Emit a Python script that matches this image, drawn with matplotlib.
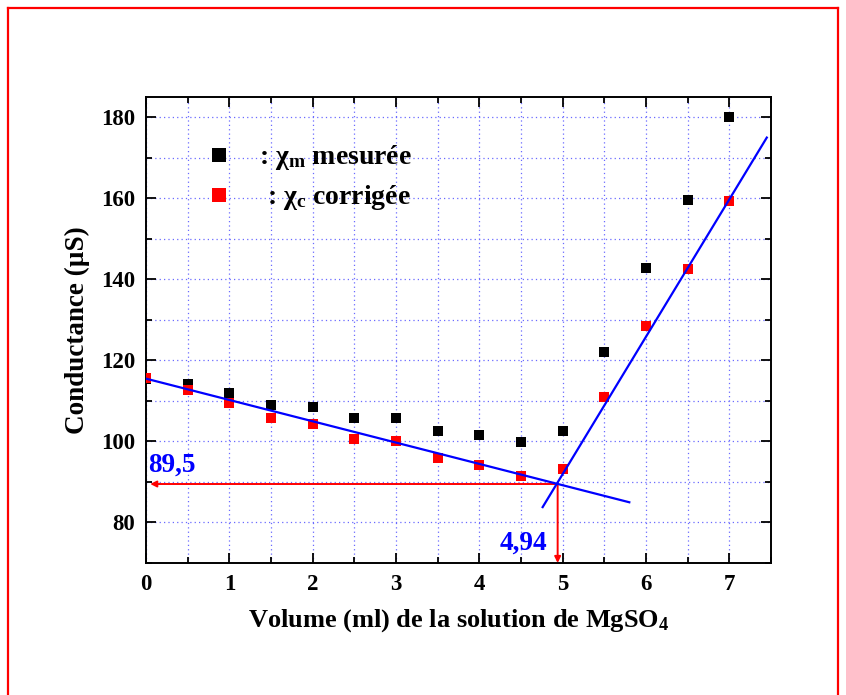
import numpy as np
import matplotlib
matplotlib.use("Agg")
import matplotlib.pyplot as plt
from matplotlib.lines import Line2D
from matplotlib.ticker import MultipleLocator

plt.rcParams['font.family'] = ['Liberation Serif', 'DejaVu Serif']
plt.rcParams['font.weight'] = 'bold'
plt.rcParams['mathtext.fontset'] = 'custom'
plt.rcParams['mathtext.rm'] = 'Liberation Serif:bold'
plt.rcParams['mathtext.bf'] = 'Liberation Serif:bold'
plt.rcParams['mathtext.it'] = 'Liberation Serif:bold'

# Volume of MgSO4 added (ml)
volume = [0, 0.5, 1, 1.5, 2, 2.5, 3, 3.5, 4, 4.5, 5, 5.5, 6, 6.5, 7]
# measured conductance (uS)
chi_m = [115.3, 114.1, 111.9, 108.9, 108.6, 105.7, 105.9, 102.5, 101.7, 99.8,
         102.5, 122.0, 142.7, 159.5, 180.0]
# corrected conductance (uS)
chi_c = [115.6, 112.8, 109.6, 105.7, 104.4, 100.7, 100.0, 95.8, 94.1, 91.4,
         93.1, 110.9, 128.6, 142.5, 159.3]

# linear fits (slope, intercept) and their drawn ranges
fit1_a, fit1_b = -5.26, 115.5
fit1_x = [0, 5.8]
fit2_a, fit2_b = 33.9, 89.9 - 33.9 * 4.94
fit2_x = [4.76, 7.45]
# equivalence point
x_eq, y_eq = 4.94, 89.5

fig = plt.figure(figsize=(8.46, 6.95), dpi=100)
ax = fig.add_axes([0.1726, 0.1899, 0.7387, 0.6705])

# red frame around the figure
for xs, ys in [([0.0095, 0.0095], [-0.1, 0.9885]),
               ([0.0095, 0.9905], [0.9885, 0.9885]),
               ([0.9905, 0.9905], [0.9885, -0.1])]:
    fig.add_artist(Line2D(xs, ys, color='red', lw=1.6, transform=fig.transFigure))

ax.set_xlim(0, 7.5)
ax.set_ylim(70, 185)
ax.xaxis.set_major_locator(MultipleLocator(1))
ax.xaxis.set_minor_locator(MultipleLocator(0.5))
ax.yaxis.set_major_locator(MultipleLocator(20))
ax.yaxis.set_minor_locator(MultipleLocator(10))
ax.grid(True, which='both', color='#6a6aff', ls=(0, (1, 2.5)), lw=0.9)
ax.set_axisbelow(True)

ax.tick_params(which='both', direction='in', top=True, right=True, width=1.3,
               labelsize=16.5)
ax.tick_params(which='major', length=7, pad=8)
ax.tick_params(which='minor', length=4)
for s in ax.spines.values():
    s.set_linewidth(1.4)

ax.scatter(volume, chi_m, marker='s', s=54, color='black', zorder=3, linewidths=0)
ax.scatter(volume, chi_c, marker='s', s=54, color='red', zorder=4, linewidths=0)

x1 = np.array(fit1_x)
ax.plot(x1, fit1_a * x1 + fit1_b, color='blue', lw=1.6, zorder=5)
x2 = np.array(fit2_x)
ax.plot(x2, fit2_a * x2 + fit2_b, color='blue', lw=1.6, zorder=5)

# arrows to the axes
ax.annotate('', xy=(0.05, y_eq), xytext=(x_eq, y_eq),
            arrowprops=dict(arrowstyle='-|>', color='red', lw=1.4,
                            mutation_scale=9, shrinkA=0, shrinkB=0), zorder=4)
ax.annotate('', xy=(x_eq, 70), xytext=(x_eq, y_eq),
            arrowprops=dict(arrowstyle='-|>', color='red', lw=1.4,
                            mutation_scale=9, shrinkA=0, shrinkB=0), zorder=4)
ax.text(0.03, 94.2, '89,5', color='blue', fontsize=19.5, fontweight='bold',
        ha='left', va='center')
ax.text(4.81, 74.8, '4,94', color='blue', fontsize=19.5, fontweight='bold',
        ha='right', va='center')

# legend drawn by hand
ax.scatter([0.87], [170.6], marker='s', s=88, color='black', linewidths=0)
ax.scatter([0.87], [160.8], marker='s', s=88, color='red', linewidths=0)
ax.text(1.36, 170.0, ': \u03c7$_\\mathrm{m}$ mesurée', fontsize=20, fontweight='bold',
        ha='left', va='center')
ax.text(1.45, 160.2, ': \u03c7$_\\mathrm{c}$ corrigée', fontsize=20, fontweight='bold',
        ha='left', va='center')

ax.set_xlabel('Volume (ml) de la solution de MgSO$_4$', fontsize=19,
              fontweight='bold', labelpad=9)
ax.set_ylabel('Conductance (\u00b5S)', fontsize=19.5, fontweight='bold', labelpad=8)

fig.savefig('out.png', dpi=100)
